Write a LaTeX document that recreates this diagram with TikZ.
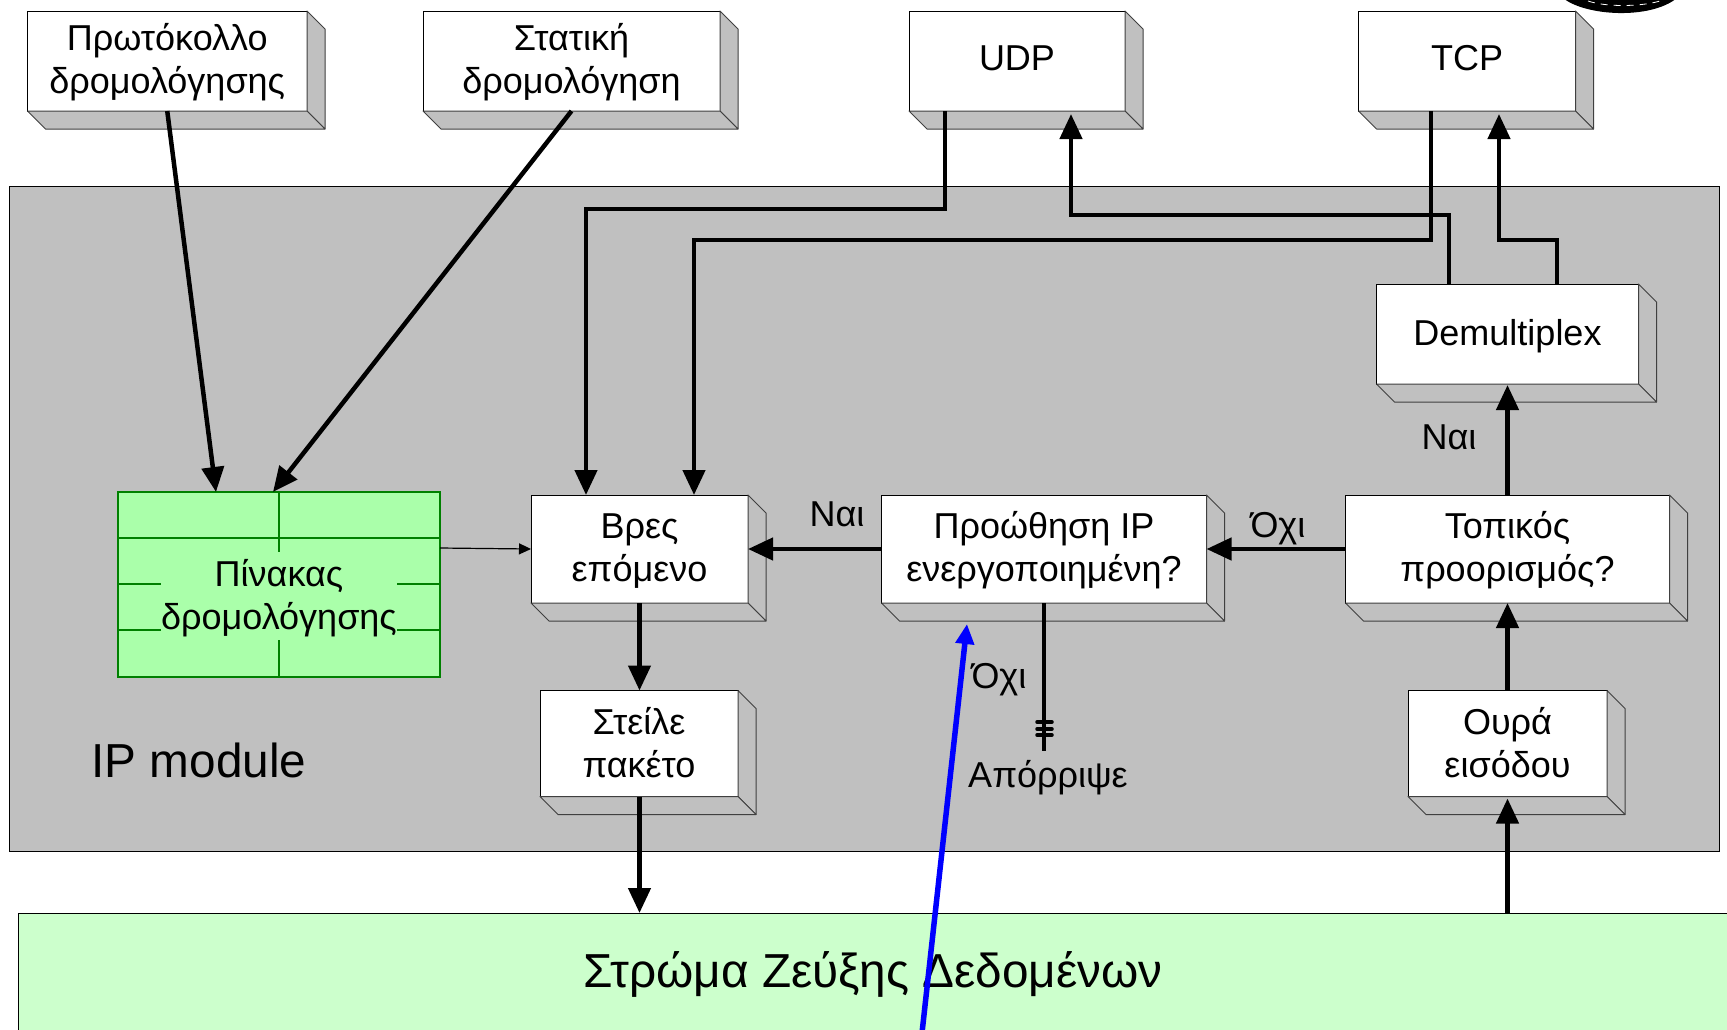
\documentclass[tikz,border=0pt]{standalone}
\usepackage{fontspec}
\setmainfont{Liberation Sans}
\usetikzlibrary{arrows.meta,calc}
\definecolor{panelgrey}{HTML}{C0C0C0}
\definecolor{tablegreen}{HTML}{AAFFAA}
\definecolor{tableline}{HTML}{008000}
\definecolor{layergreen}{HTML}{CCFFCC}
\definecolor{faceline}{HTML}{404040}
\tikzset{
  boxface/.style={draw=black,fill=white,line width=1pt,inner sep=0pt,outer sep=0pt},
  boxtext/.style={inner sep=0pt,outer sep=0pt,align=center,font=\fontsize{36}{43}\selectfont},
  sideface/.style={draw=faceline,fill=panelgrey,line width=1pt,line join=round},
  link/.style={draw=black,line width=4.5pt,line join=miter},
  linkarrow/.style={link,-{Triangle[length=25pt,width=22pt]}},
  thinarrow/.style={draw=black,line width=1.2pt,-{Triangle[length=12pt,width=11pt]}},
  caption/.style={inner sep=0pt,outer sep=0pt,font=\fontsize{36}{43}\selectfont},
  bigcaption/.style={inner sep=0pt,outer sep=0pt,font=\fontsize{47.7}{56}\selectfont},
  gridline/.style={draw=tableline,line width=1.3pt},
  bluearrow/.style={draw=blue,line width=5.5pt,-{Triangle[length=20pt,width=18pt]}}
}
\newcommand{\threedbox}[7]{%
  \node[boxface,minimum width=#4pt,minimum height=#5pt] (#1) at (#2,#3) {};
  \path[sideface] (#1.north east) -- ++(18,18) -- ($(#1.south east)+(18,18)$) -- (#1.south east) -- cycle;
  \path[sideface] (#1.south west) -- ++(18,18) -- ($(#1.south east)+(18,18)$) -- (#1.south east) -- cycle;
  \node[boxtext] (#1text) at ($(#1.center)+(0,#7)$) {#6};
}
\begin{document}
\begin{tikzpicture}[x=1pt,y=-1pt]
\useasboundingbox (0,0) rectangle (1727,1029);
\clip (0,0) rectangle (1727,1029);
% logo fragment at the top edge
\fill[black] (1563,-2) .. controls (1585,16) and (1650,20) .. (1677,-2) -- cycle;
\draw[white,line width=0.8pt,dash pattern=on 7pt off 6pt] (1588,1) .. controls (1605,7) and (1640,7) .. (1660,1);
% panel
\draw[fill=panelgrey,draw=black,line width=1pt] (9.5,186) rectangle (1719,851);
\node[bigcaption] (ipmodule) at (199,760) {IP module};
% data link layer
\node[bigcaption,fill=layergreen,minimum width=1710pt,minimum height=122pt,outer sep=0pt] (layer) at (873,974) {Στρώμα Ζεύξης Δεδομένων};
\draw[black,line width=1pt] (layer.south west) -- (layer.north west) -- (layer.north east);
% routing table
\node[draw=tableline,fill=tablegreen,line width=1.3pt,minimum width=322pt,minimum height=185pt,inner sep=0pt,outer sep=0pt] (table) at (279,584.5) {};
\draw[gridline] (table.north) -- ++(0,60);
\draw[gridline] (table.south) -- ++(0,-37);
\draw[gridline] (118,538) -- (440,538);
\draw[gridline] (118,584) -- (161,584);
\draw[gridline] (397,584) -- (440,584);
\draw[gridline] (118,630) -- (161,630);
\draw[gridline] (397,630) -- (440,630);
\node[boxtext] (tabletext) at (279,598.5) {Πίνακας\\δρομολόγησης};
% boxes
\threedbox{proto}{167.25}{61}{279.5}{100}{Πρωτόκολλο\\δρομολόγησης}{1}
\threedbox{static}{571.5}{61}{297}{100}{Στατική\\δρομολόγηση}{1}
\threedbox{udp}{1017}{61}{216}{100}{UDP}{-3}
\threedbox{tcp}{1467}{61}{217}{100}{TCP}{-3}
\threedbox{demux}{1507.5}{334}{262}{100}{Demultiplex}{2}
\threedbox{next}{639.5}{549}{217}{108}{Βρες\\επόμενο}{2}
\threedbox{forward}{1044}{549}{325}{108}{Προώθηση IP\\ενεργοποιημένη?}{1}
\threedbox{local}{1507.5}{549}{324}{108}{Τοπικός\\προορισμός?}{1}
\threedbox{send}{639}{743.5}{198}{106}{Στείλε\\πακέτο}{-1}
\threedbox{queue}{1507.5}{743.5}{199}{106}{Ουρά\\εισόδου}{-1}
% connectors
\draw[linkarrow] (proto.south) -- ([xshift=-63pt]table.north);
\draw[linkarrow] (static.south) -- ([xshift=-6pt]table.north);
\draw[linkarrow] ([xshift=-72pt]udp.south) |- (586,209) -- ([xshift=-53.5pt]next.north);
\draw[linkarrow] ([xshift=-36pt]tcp.south) |- (694,240) -- ([xshift=54.5pt]next.north);
\draw[linkarrow] ([xshift=-58.5pt]demux.north) |- (1071,215) -- ([xshift=54pt,yshift=-3pt]udp.south);
\draw[linkarrow] ([xshift=49.5pt]demux.north) |- (1499,240) -- ([xshift=32pt,yshift=-3pt]tcp.south);
\draw[linkarrow] (local.north) -- ([yshift=-1pt]demux.south);
\draw[linkarrow] (local.west) -- (forward.east);
\draw[linkarrow] (forward.west) -- (next.east);
\draw[thinarrow] ([yshift=36.5pt]table.east) -- (next.west);
\draw[linkarrow] (next.south) -- ([xshift=.5pt]send.north);
\draw[linkarrow] ([xshift=.5pt]send.south) -- ([xshift=-233.5pt]layer.north);
\draw[linkarrow] ([xshift=634.5pt]layer.north) -- ([yshift=-2pt]queue.south);
\draw[linkarrow] (queue.north) -- (local.south);
\coordinate (discard) at (1044,751);
\draw[link] (forward.south) -- (discard);
\draw[black,line width=3.5pt,line cap=round] (1037,722) -- (1052,722) (1037,729) -- (1052,729) (1037,735) -- (1052,735);
% labels
\node[caption] (yes1) at (837,514) {Ναι};
\node[caption] (no1) at (1278,529) {Όχι};
\node[caption] (yes2) at (1449,437) {Ναι};
\node[caption] (no2) at (999,680) {Όχι};
\node[caption] (drop) at (1048,778) {Απόρριψε};
% blue arrow
\coordinate (bluefoot) at (922,1033);
\coordinate (bluetip) at (967,624);
\draw[bluearrow] (bluefoot) -- (bluetip);
\end{tikzpicture}
\end{document}
